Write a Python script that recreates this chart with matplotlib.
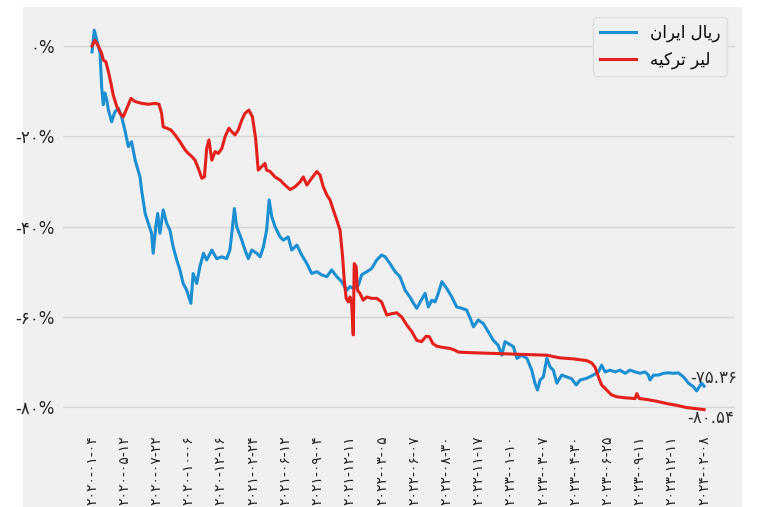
import matplotlib
matplotlib.use("Agg")
import matplotlib.pyplot as plt
from matplotlib.patches import Rectangle

plt.rcParams['font.family'] = ['DejaVu Sans']

# tick labels (one every N rows, evenly spaced)
dates = ["2020-01-04", "2020-05-12", "2020-07-22", "2020-10-06", "2020-12-16",
         "2021-02-24", "2021-06-12", "2021-09-04", "2021-12-11", "2022-03-05",
         "2022-06-07", "2022-08-30", "2022-11-17", "2023-01-10", "2023-03-07",
         "2023-04-30", "2023-06-25", "2023-09-11", "2023-12-11", "2024-02-08"]

# rial: position (in tick steps) and % change
rial_x = [0.0, 0.07, 0.15, 0.25, 0.30, 0.35, 0.40, 0.46, 0.51, 0.61, 0.71, 0.82, 0.92,
          1.02, 1.13, 1.23, 1.34, 1.49, 1.54, 1.65, 1.75, 1.85, 1.90, 1.98, 2.04, 2.11,
          2.21, 2.32, 2.42, 2.52, 2.63, 2.73, 2.83, 2.94, 3.07, 3.14, 3.25, 3.35, 3.46,
          3.56, 3.72, 3.87, 4.03, 4.18, 4.28, 4.34, 4.42, 4.49, 4.65, 4.75, 4.85, 4.96,
          5.11, 5.22, 5.32, 5.42, 5.50, 5.58, 5.68, 5.84, 5.94, 6.09, 6.20, 6.36, 6.51,
          6.67, 6.82, 6.98, 7.13, 7.29, 7.44, 7.60, 7.75, 7.91, 8.01, 8.11, 8.27, 8.37,
          8.53, 8.68, 8.84, 8.99, 9.10, 9.25, 9.41, 9.56, 9.72, 9.87, 9.98, 10.08, 10.18,
          10.34, 10.44, 10.55, 10.65, 10.75, 10.86, 11.01, 11.17, 11.32, 11.48, 11.63,
          11.74, 11.84, 11.99, 12.15, 12.30, 12.46, 12.61, 12.72, 12.82, 12.92, 13.08,
          13.19, 13.34, 13.50, 13.65, 13.75, 13.83, 13.91, 14.01, 14.12, 14.22, 14.32,
          14.43, 14.58, 14.74, 14.89, 15.03, 15.15, 15.36, 15.56, 15.72, 15.82, 15.93,
          16.08, 16.24, 16.39, 16.55, 16.70, 16.86, 17.01, 17.17, 17.27, 17.32, 17.43,
          17.58, 17.74, 17.89, 18.05, 18.20, 18.36, 18.52, 18.67, 18.77, 18.85, 18.93, 19.0]
rial = [-1.3, 3.5, 1.3, -1.6, -9.0, -13.0, -10.4, -12.0, -14.2, -16.8, -14.6, -13.8, -15.7,
        -18.6, -22.3, -21.2, -25.3, -29.0, -31.9, -37.1, -39.3, -41.5, -45.9, -40.0, -37.1, -41.5,
        -36.3, -39.3, -40.8, -44.5, -47.4, -49.6, -52.6, -54.1, -57.0, -50.4, -52.6, -48.9, -45.9,
        -47.4, -45.2, -47.1, -46.7, -47.1, -45.2, -41.5, -36.0, -40.0, -43.0, -45.2, -47.1, -45.2,
        -45.9, -46.7, -44.5, -40.8, -34.1, -37.8, -40.0, -42.3, -43.0, -42.3, -45.2, -44.1, -46.3,
        -48.2, -50.4, -50.0, -50.7, -51.1, -49.6, -51.1, -52.2, -54.1, -53.3, -53.7, -53.0, -50.7,
        -50.0, -49.3, -47.4, -46.3, -46.7, -48.2, -50.0, -51.1, -54.1, -55.6, -57.0, -58.1, -56.8,
        -54.8, -57.8, -56.3, -56.7, -54.8, -52.2, -53.7, -55.6, -57.8, -58.1, -58.5,
        -60.3, -62.2, -60.7, -61.5, -63.3, -65.2, -66.3, -68.5, -65.5, -65.9, -66.6,
        -69.2, -68.5, -69.2, -71.8, -74.7, -76.2, -74.0, -73.3, -69.2, -71.1, -71.8,
        -74.7, -72.9, -73.3, -73.7, -75.1, -74.0, -73.6, -72.9, -72.2, -70.7, -72.2,
        -71.8, -72.2, -71.8, -72.5, -71.8, -72.2, -72.5, -72.2, -72.9, -74.0, -72.9,
        -72.9, -72.5, -72.4, -72.5, -72.4, -73.3, -74.7, -75.5, -76.4, -75.5, -74.7, -75.36]

# lira
lira_x = [0.0, 0.09, 0.20, 0.30, 0.35, 0.43, 0.51, 0.59, 0.66, 0.77, 0.87, 0.97, 1.08,
          1.21, 1.34, 1.54, 1.75, 1.96, 2.08, 2.16, 2.21, 2.32, 2.45, 2.58, 2.73, 2.89,
          2.99, 3.10, 3.20, 3.30, 3.41, 3.49, 3.56, 3.63, 3.72, 3.82, 3.92, 4.03, 4.13,
          4.25, 4.34, 4.44, 4.54, 4.65, 4.75, 4.87, 4.98, 5.08, 5.16, 5.27, 5.37, 5.42,
          5.53, 5.68, 5.84, 5.99, 6.15, 6.30, 6.46, 6.56, 6.67, 6.82, 6.98, 7.08, 7.18,
          7.29, 7.39, 7.49, 7.60, 7.70, 7.78, 7.83, 7.89, 7.96, 8.01, 8.06, 8.11, 8.14,
          8.20, 8.24, 8.32, 8.42, 8.53, 8.68, 8.84, 8.99, 9.15, 9.30, 9.46, 9.61, 9.77,
          9.93, 10.08, 10.23, 10.37, 10.47, 10.58, 10.70, 10.91, 11.11, 11.27, 11.37,
          11.63, 12.05, 12.46, 12.87, 13.29, 13.70, 14.12, 14.53, 14.94, 15.36, 15.51,
          15.62, 15.72, 15.82, 15.93, 16.03, 16.13, 16.29, 16.50, 16.70, 16.86, 16.91,
          16.99, 17.22, 17.53, 17.84, 18.15, 18.46, 18.72, 19.0]
lira = [0.0, 1.3, -0.1, -1.6, -3.1, -3.5, -5.7, -8.3, -10.9, -13.4, -14.9, -15.7, -13.8,
        -11.6, -12.3, -12.7, -12.9, -12.7, -12.9, -14.9, -17.9, -18.2, -18.6, -19.7, -21.2, -23.0,
        -23.8, -24.5, -25.3, -27.1, -29.3, -29.0, -22.7, -20.8, -25.3, -23.4, -23.8, -22.7, -20.1,
        -18.2, -19.0, -19.7, -18.6, -16.4, -14.9, -14.2, -15.7, -20.5, -27.5, -26.7, -26.0, -27.5,
        -27.8, -29.0, -29.7, -30.8, -31.8, -31.2, -30.1, -29.0, -30.8, -29.3, -27.8, -28.6, -31.2,
        -33.0, -34.1, -36.3, -38.6, -40.8, -46.7, -51.9, -55.9, -56.7, -55.6, -57.0, -64.0, -48.2,
        -48.9, -54.1, -54.8, -56.3, -55.6, -55.9, -55.9, -56.7, -59.6, -59.3, -59.1, -60.0, -61.8,
        -63.3, -65.2, -65.5, -64.3, -64.4, -65.9, -66.5, -66.8, -67.0, -67.4, -67.8,
        -67.9, -68.0, -68.1, -68.2, -68.3, -68.4, -68.5, -69.1, -69.3, -69.7, -70.2,
        -71.2, -73.3, -75.1, -75.9, -76.6, -77.3, -77.7, -77.9, -78.0, -78.1, -77.0,
        -78.1, -78.3, -78.7, -79.2, -79.6, -80.1, -80.3, -80.54]

yticks = [0, -20, -40, -60, -80]

# "ریال ایران" and "لیر ترکیه", already shaped and in visual order
label_rial = "\ufee5\ufe8d\ufeae\ufef3\ufe8d \ufedd\ufe8e\ufef3\ufead"
label_lira = "\ufeea\ufef4\ufedb\ufeae\ufe97 \ufeae\ufef4\ufedf"

fa = str.maketrans("0123456789", "۰۱۲۳۴۵۶۷۸۹")


def persian(s):
    return str(s).translate(fa)


fig = plt.figure(figsize=(7.68, 5.07), dpi=100, facecolor='white')
fig.patches.append(Rectangle((23 / 768, 0), 719 / 768, 500 / 507, transform=fig.transFigure,
                             facecolor='#f0f0f0', edgecolor='none', zorder=-10))
ax = fig.add_axes([63 / 768, 1 - 427 / 507, 672 / 768, 418 / 507])
ax.set_facecolor('#f0f0f0')

ax.plot(rial_x, rial, color='#1b8fd2', lw=2.2, label=label_rial, zorder=3)
ax.plot(lira_x, lira, color='#e3201b', lw=2.2, label=label_lira, zorder=3)

# end labels sit under the lines, as in the original
ax.text(19.3, -73.6, "-" + persian("75.36"), fontsize=12, ha='center', va='center',
        color='#333333', zorder=1)
ax.text(19.2, -82.4, "-" + persian("80.54"), fontsize=12, ha='center', va='center',
        color='#333333', zorder=1)

ax.set_xlim(-0.9, 19.96)
ax.set_ylim(-84.4, 8.2)
ax.set_xticks(range(len(dates)))
ax.set_xticklabels([persian(d) for d in dates], rotation=90, fontsize=10, color='#222222')
ax.set_yticks(yticks)
ax.set_yticklabels([persian(v) + "%" for v in yticks], fontsize=12, color='#222222')
ax.tick_params(length=0, pad=6)
ax.grid(axis='y', color='#d6d6d6', lw=1)
ax.set_axisbelow(True)
for s in ax.spines.values():
    s.set_visible(False)

ax.legend(loc='upper right', fontsize=12, facecolor='#f0f0f0', edgecolor='#dddddd',
          framealpha=1, handlelength=2.2)

fig.savefig("out.png", dpi=100, facecolor=fig.get_facecolor())
